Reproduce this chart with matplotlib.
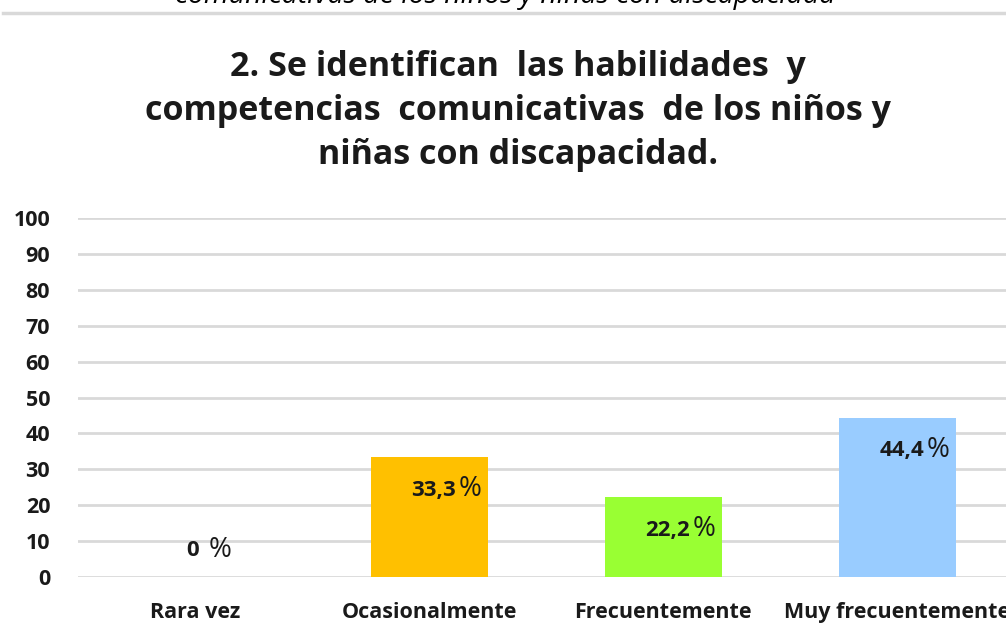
import matplotlib.pyplot as plt

# data
categorias = ['Rara vez', 'Ocasionalmente', 'Frecuentemente', 'Muy frecuentemente']
valores = [0, 33.3, 22.2, 44.4]
etiquetas = ['0', '33,3', '22,2', '44,4']
colores = ['#FFC000', '#FFC000', '#99FF33', '#99CCFF']

plt.rcParams['font.family'] = ['Open Sans', 'DejaVu Sans']

fig = plt.figure(figsize=(10.06, 6.37), dpi=100)
ax = fig.add_axes([78 / 1006, 60 / 637, 936 / 1006, 359 / 637])

ax.bar(range(len(valores)), valores, width=0.5, color=colores, zorder=2)
ax.set_xlim(-0.5, 3.5)
ax.set_ylim(0, 100)
ax.set_yticks(range(0, 101, 10))
ax.yaxis.grid(True, color='#d9d9d9', linewidth=2, zorder=0)
for s in ax.spines.values():
    s.set_visible(False)
ax.tick_params(length=0)
ax.tick_params(axis='y', pad=20, labelsize=15.5)
ax.tick_params(axis='x', pad=18, labelsize=15.5)
ax.set_xticks(range(len(categorias)))
ax.set_xticklabels(categorias)
for lbl in ax.get_xticklabels() + ax.get_yticklabels():
    lbl.set_fontweight('bold')
    lbl.set_color('#1a1a1a')

# data labels
for i, (v, t) in enumerate(zip(valores, etiquetas)):
    if v == 0:
        dx, dy, gap = 37, 27, 33
    else:
        dx, dy, gap = 52, -32, 25
    ax.annotate('%', (i, v), xytext=(dx, dy), textcoords='offset pixels',
                ha='right', va='center', fontsize=20, color='#1a1a1a')
    ax.annotate(t, (i, v), xytext=(dx - gap, dy - 1), textcoords='offset pixels',
                ha='right', va='center', fontsize=16, fontweight='bold', color='#1a1a1a')

# title
fig.text(518 / 1006, 1 - 111 / 637,
         '2. Se identifican  las habilidades  y\ncompetencias  comunicativas  de los niños y\nniñas con discapacidad.',
         ha='center', va='center', fontsize=24.5, fontweight='bold', color='#1a1a1a',
         linespacing=1.37)

# cropped caption and separator line from the page above
fig.text(505 / 1006, 1 - 3 / 637, 'comunicativas de los niños y niñas con discapacidad',
         ha='center', va='baseline', fontsize=20.5, style='italic', color='#000000')
fig.add_artist(plt.Line2D([3 / 1006, 1], [1 - 13 / 637, 1 - 13 / 637],
                          color='#d9d9d9', linewidth=2.5, transform=fig.transFigure))

plt.savefig('out.png', dpi=100)
